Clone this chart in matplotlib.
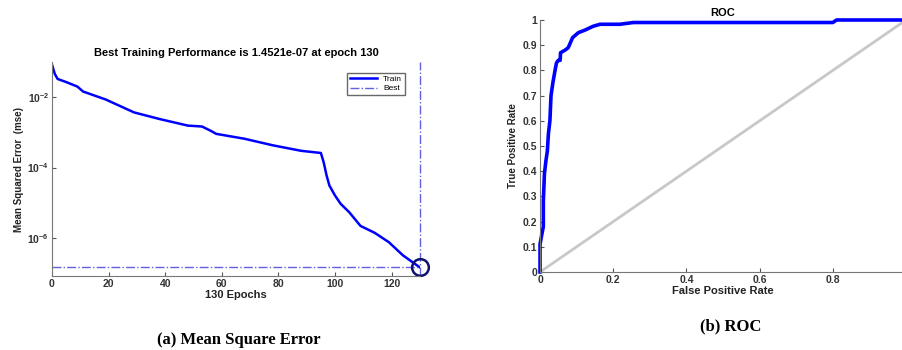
from matplotlib import pyplot as plt
from matplotlib.ticker import FixedLocator, NullLocator

# training performance
epochs = [0, 1, 2, 5, 9, 11, 19, 29, 38, 48, 53, 56, 58, 68, 78, 88,
          95, 96, 97, 98, 100, 102, 105, 109, 114, 119, 124, 130]
mse = [0.085, 0.046, 0.033, 0.027, 0.020, 0.0145, 0.0086, 0.0037, 0.0024,
       0.00156, 0.00147, 0.00112, 0.00091, 0.00066, 0.00043, 0.0003,
       0.00026, 0.00014, 6e-5, 3.1e-5, 1.6e-5, 9.3e-6, 5.4e-6, 2.2e-6,
       1.4e-6, 7.6e-7, 3.2e-7, 1.4521e-7]
best_epoch = 130
best_perf = 1.4521e-7

# ROC curve
fpr = [0, 0, 0.005, 0.009, 0.009, 0.012, 0.016, 0.02, 0.023, 0.027, 0.03,
       0.035, 0.041, 0.045, 0.05, 0.055, 0.056, 0.068, 0.077, 0.089, 0.105,
       0.123, 0.145, 0.164, 0.218, 0.255, 0.8, 0.81, 1.0]
tpr = [0, 0.11, 0.15, 0.18, 0.28, 0.39, 0.44, 0.48, 0.55, 0.60, 0.70,
       0.75, 0.80, 0.83, 0.84, 0.84, 0.87, 0.88, 0.89, 0.93, 0.95,
       0.96, 0.975, 0.983, 0.983, 0.99, 0.99, 1.0, 1.0]

plt.rcParams['font.family'] = ['Liberation Sans', 'DejaVu Sans']
plt.rcParams['mathtext.default'] = 'regular'
plt.rcParams['xtick.direction'] = 'in'
plt.rcParams['ytick.direction'] = 'in'
grey = '#555555'

fig = plt.figure(figsize=(9.02, 3.5), dpi=100)

# (a) mean squared error
ax1 = fig.add_axes([0.0576, 0.2114, 0.408, 0.6114])
ax1.semilogy(epochs, mse, color='#0000ff', lw=1.8, label='Train')
ax1.axhline(best_perf, color='#6060e0', lw=1.0, ls='-.', label='Best')
ax1.axvline(best_epoch, color='#6060e0', lw=1.0, ls='-.', clip_on=False)
ax1.plot([best_epoch], [best_perf], 'o', ms=12, mfc='none',
         mec='#101070', mew=1.8, clip_on=False)
ax1.set_xlim(0, 130)
ax1.set_ylim(8.3e-8, 0.1)
ax1.yaxis.set_major_locator(FixedLocator([1e-2, 1e-4, 1e-6]))
ax1.yaxis.set_minor_locator(NullLocator())
ax1.set_yticklabels(['$10^{-2}$', '$10^{-4}$', '$10^{-6}$'])
ax1.set_xticks([0, 20, 40, 60, 80, 100, 120])
ax1.set_title('Best Training Performance is 1.4521e-07 at epoch 130',
              fontsize=8, fontweight='bold', pad=4)
ax1.set_xlabel('130 Epochs', fontsize=8, fontweight='bold', labelpad=1)
ax1.set_ylabel('Mean Squared Error  (mse)', fontsize=7, fontweight='bold',
               labelpad=2)
leg = ax1.legend(loc='upper right', fontsize=6, frameon=True, fancybox=False,
                 handlelength=3.2, borderpad=0.3, labelspacing=0.2,
                 bbox_to_anchor=(0.97, 0.97))
leg.get_frame().set_edgecolor('#444444')
leg.get_frame().set_linewidth(1.0)
for s in ['top', 'right']:
    ax1.spines[s].set_visible(False)

# (b) ROC
ax2 = fig.add_axes([0.5987, 0.2229, 0.4058, 0.72])
ax2.plot([0, 1], [0, 1], color='#c8c8c8', lw=2)
ax2.plot(fpr, tpr, color='#0000ff', lw=2.6, clip_on=False)
ax2.set_xlim(0, 1)
ax2.set_ylim(0, 1)
# the tick label at 1 falls outside the picture
ax2.set_xticks([0, 0.2, 0.4, 0.6, 0.8])
ax2.set_xticklabels(['0', '0.2', '0.4', '0.6', '0.8'])
ax2.set_yticks([i / 10 for i in range(11)])
ax2.set_yticklabels(['0', '0.1', '0.2', '0.3', '0.4', '0.5', '0.6', '0.7',
                     '0.8', '0.9', '1'])
ax2.set_title('ROC', fontsize=8, fontweight='bold', pad=3)
ax2.set_xlabel('False Positive Rate', fontsize=8, fontweight='bold',
               labelpad=1)
ax2.set_ylabel('True Positive Rate', fontsize=7, fontweight='bold',
               labelpad=3)
for s in ['top', 'right']:
    ax2.spines[s].set_visible(False)

for ax in (ax1, ax2):
    ax.tick_params(labelsize=7.5, colors=grey, length=3, pad=2)
    for lab in ax.get_xticklabels() + ax.get_yticklabels():
        lab.set_fontweight('bold')
        lab.set_color('#333333')
    ax.spines['left'].set_color('#777777')
    ax.spines['bottom'].set_color('#777777')
    ax.xaxis.label.set_color('#222222')
    ax.yaxis.label.set_color('#222222')

fig.text(0.265, 1 - 340 / 350, '(a) Mean Square Error', ha='center',
         va='center', fontsize=12, fontweight='bold',
         family='Liberation Serif')
fig.text(0.81, 1 - 326 / 350, '(b) ROC', ha='center', va='center',
         fontsize=12, fontweight='bold', family='Liberation Serif')

fig.savefig('out.png', dpi=100)
